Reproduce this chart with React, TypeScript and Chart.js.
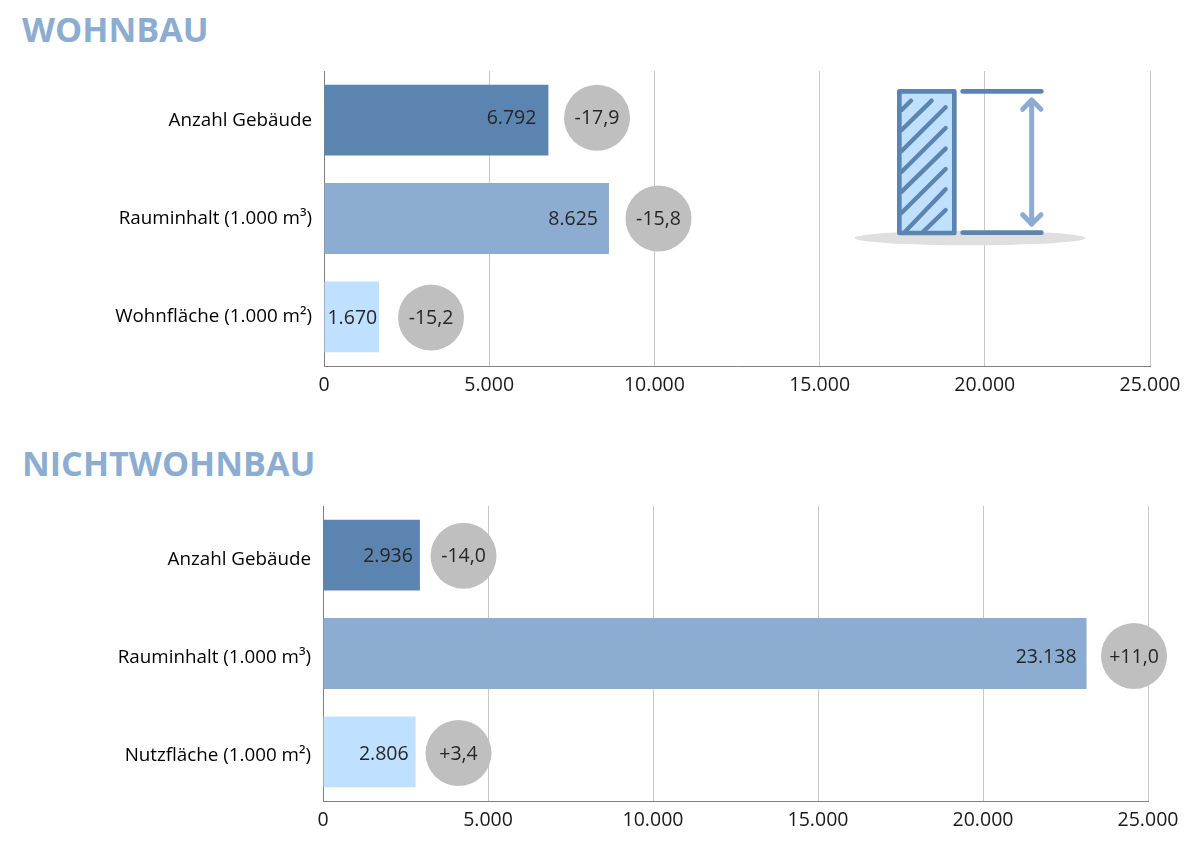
import { useEffect, useRef } from "react";
import { Chart, registerables } from "chart.js";

Chart.register(...registerables);

const FONT = '"Open Sans", sans-serif';
const DARK = "#5b85b0";
const MID = "#8cadd1";
const LIGHT = "#c0e0ff";
const BADGE = "#bfbfbf";
const BAR_COLORS = [DARK, MID, LIGHT];

const wohnCategories = ["Anzahl Gebäude", "Rauminhalt (1.000 m³)", "Wohnfläche (1.000 m²)"];
const wohnValues = [6792, 8625, 1670];
const wohnChanges = ["-17,9", "-15,8", "-15,2"];
const wohnBadgeAt = [8263, 10124, 3239];
const wohnBadgeRow = [-0.024, 1.0, 2.008];

const nichtCategories = ["Anzahl Gebäude", "Rauminhalt (1.000 m³)", "Nutzfläche (1.000 m²)"];
const nichtValues = [2936, 23138, 2806];
const nichtChanges = ["-14,0", "+11,0", "+3,4"];
const nichtBadgeAt = [4258, 24576, 4106];
const nichtBadgeRow = [0.007, 1.025, 2.013];

const AXIS_MAX = 25000;
const AXIS_STEP = 5000;

function fmtValue(v: number): string {
  return v.toLocaleString("de-DE");
}

// value and badge captions, drawn on top of the marks
const captionsPlugin = {
  id: "captions",
  afterDatasetsDraw(chart: any, _args: any, opts: any) {
    const { ctx } = chart;
    const bars = chart.getDatasetMeta(0).data;
    const badges = chart.getDatasetMeta(1).data;
    ctx.save();
    ctx.font = `19.5px ${FONT}`;
    ctx.fillStyle = "#262626";
    ctx.textBaseline = "middle";
    bars.forEach((bar: any, i: number) => {
      const y = badges[i].y + 1;
      ctx.textAlign = "right";
      ctx.fillText(fmtValue(opts.values[i]), bar.x - opts.insets[i], y);
      ctx.textAlign = "center";
      ctx.fillText(opts.changes[i], badges[i].x, y);
    });
    ctx.restore();
  },
};

type PanelProps = {
  top: number;
  axisLeft: number;
  axisWidth: number;
  labelOffset: number;
  categories: string[];
  values: number[];
  changes: string[];
  badgeAt: number[];
  badgeRow: number[];
  insets: number[];
};

function Panel({ top, axisLeft, axisWidth, labelOffset, categories, values, changes, badgeAt, badgeRow, insets }: PanelProps) {
  const canvasRef = useRef<HTMLCanvasElement>(null);

  useEffect(() => {
    if (!canvasRef.current) return;
    const chart = new Chart(canvasRef.current, {
      type: "bar",
      plugins: [captionsPlugin],
      data: {
        labels: categories,
        datasets: [
          {
            data: values,
            backgroundColor: BAR_COLORS,
            barPercentage: 0.72,
            categoryPercentage: 1,
            grouped: false,
            order: 2,
          },
          {
            type: "scatter",
            yAxisID: "badgeRow",
            data: badgeAt.map((x, i) => ({ x, y: badgeRow[i] })),
            backgroundColor: BADGE,
            borderWidth: 0,
            pointRadius: 33,
            pointHoverRadius: 33,
            clip: false,
            order: 1,
          },
        ] as any,
      },
      options: {
        indexAxis: "y",
        animation: false,
        responsive: false,
        events: [],
        layout: { padding: { top: 10, right: 1200 - axisLeft - axisWidth, left: 0, bottom: 0 } },
        plugins: {
          legend: { display: false },
          tooltip: { enabled: false },
          captions: { values, changes, insets },
        } as any,
        scales: {
          x: {
            type: "linear",
            min: 0,
            max: AXIS_MAX,
            afterFit: (s: any) => {
              s.height = 44;
              s.paddingLeft = 0;
              s.paddingRight = 0;
            },
            grid: { color: "#c8c8c8", drawTicks: false },
            border: { color: "#808080" },
            ticks: {
              stepSize: AXIS_STEP,
              padding: 8,
              maxRotation: 0,
              color: "#1a1a1a",
              font: { family: FONT, size: 19.5 },
              callback: (v: any) => fmtValue(Number(v)),
            },
          },
          y: {
            type: "category",
            afterFit: (s: any) => {
              s.width = axisLeft;
              s.paddingTop = 0;
              s.paddingBottom = 0;
            },
            grid: { display: false, drawTicks: false },
            border: { color: "#808080" },
            ticks: {
              padding: 12,
              labelOffset,
              color: "#000",
              font: { family: FONT, size: 18.8 },
            },
          },
          // same rows as the category axis, lets a badge sit slightly off centre
          badgeRow: {
            type: "linear",
            axis: "y",
            display: false,
            offset: false,
            reverse: true,
            min: -0.5,
            max: 2.5,
          },
        },
      },
    });
    return () => chart.destroy();
  }, []);

  return (
    <canvas
      ref={canvasRef}
      width={1200}
      height={372}
      style={{ position: "absolute", left: 0, top, display: "block" }}
    />
  );
}

function Title({ top, children }: { top: number; children: React.ReactNode }) {
  return (
    <div
      style={{
        position: "absolute",
        left: 22,
        top,
        font: `700 34.2px ${FONT}`,
        lineHeight: "40px",
        color: MID,
        whiteSpace: "nowrap",
      }}
    >
      {children}
    </div>
  );
}

const HATCHES = [
  [185, 120, 213, 92],
  [185, 180, 275, 92],
  [185, 243, 317, 112],
  [185, 305, 317, 174],
  [185, 365, 317, 236],
  [185, 428, 317, 297],
  [195, 485, 317, 358],
  [250, 485, 317, 420],
];

// building height pictogram
function Pictogram() {
  return (
    <svg
      width={260}
      height={190}
      viewBox="0 0 780 570"
      style={{ position: "absolute", left: 840, top: 70 }}
    >
      <ellipse cx={390} cy={504} rx={346} ry={22} fill="#dfdfdf" />
      <rect x={178} y={64} width={165} height={425} fill={LIGHT} />
      {HATCHES.map(([x1, y1, x2, y2], i) => (
        <line key={i} x1={x1} y1={y1} x2={x2} y2={y2} stroke={DARK} strokeWidth={13} strokeLinecap="round" />
      ))}
      <rect x={178} y={64} width={165} height={425} fill="none" stroke={DARK} strokeWidth={14} strokeLinejoin="round" />
      <g stroke={DARK} strokeWidth={14} strokeLinecap="round">
        <line x1={368} y1={64} x2={604} y2={64} />
        <line x1={368} y1={488} x2={604} y2={488} />
      </g>
      <g stroke={MID} strokeWidth={15} strokeLinecap="round" strokeLinejoin="round" fill="none">
        <line x1={575} y1={92} x2={575} y2={462} />
        <polyline points="548,118 575,90 603,118" />
        <polyline points="548,434 575,462 603,434" />
      </g>
    </svg>
  );
}

export default function App() {
  return (
    <div style={{ position: "absolute", left: 0, top: 0, width: 1200, height: 845, background: "#fff", overflow: "hidden" }}>
      <Title top={9}>WOHNBAU</Title>
      <Panel
        top={38}
        axisLeft={324}
        axisWidth={826}
        labelOffset={0}
        categories={wohnCategories}
        values={wohnValues}
        changes={wohnChanges}
        badgeAt={wohnBadgeAt}
        badgeRow={wohnBadgeRow}
        insets={[12, 11, 2]}
      />
      <Pictogram />
      <Title top={443}>NICHTWOHNBAU</Title>
      <Panel
        top={473}
        axisLeft={323}
        axisWidth={825}
        labelOffset={4}
        categories={nichtCategories}
        values={nichtValues}
        changes={nichtChanges}
        badgeAt={nichtBadgeAt}
        badgeRow={nichtBadgeRow}
        insets={[7, 10, 7]}
      />
    </div>
  );
}
